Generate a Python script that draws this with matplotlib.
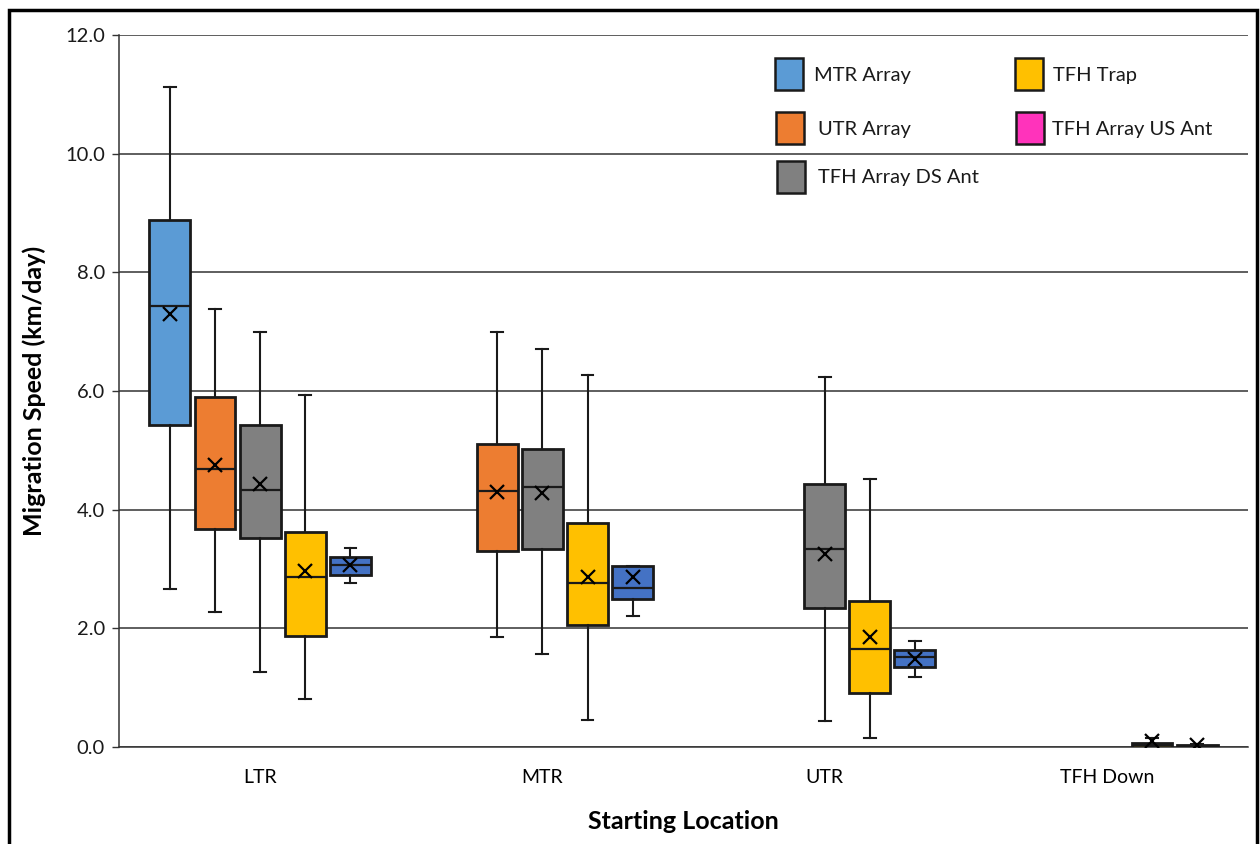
import matplotlib
matplotlib.use("Agg")
import matplotlib.pyplot as plt
from matplotlib.patches import Rectangle

plt.rcParams["font.family"] = ["Lato", "DejaVu Sans"]

categories = ["LTR", "MTR", "UTR", "TFH Down"]

# Summary per starting location: (whisker low, Q1, median, Q3, whisker high, mean)
mtr_array = [(2.67, 5.43, 7.44, 8.88, 11.13, 7.30), None, None, None]
utr_array = [(2.27, 3.67, 4.69, 5.90, 7.38, 4.75),
             (1.86, 3.30, 4.32, 5.10, 6.99, 4.29), None, None]
tfh_ds_ant = [(1.26, 3.53, 4.33, 5.42, 6.99, 4.44),
              (1.56, 3.33, 4.39, 5.03, 6.71, 4.28),
              (0.44, 2.34, 3.33, 4.44, 6.24, 3.26), None]
tfh_trap = [(0.81, 1.87, 2.86, 3.62, 5.93, 2.97),
            (0.46, 2.05, 2.77, 3.78, 6.27, 2.87),
            (0.16, 0.91, 1.65, 2.46, 4.51, 1.85),
            (0.00, 0.00, 0.03, 0.07, 0.16, 0.10)]
tfh_us_ant = [(2.76, 2.90, 3.06, 3.21, 3.35, 3.06),
              (2.21, 2.50, 2.68, 3.05, 3.05, 2.87),
              (1.18, 1.34, 1.52, 1.64, 1.78, 1.48),
              (0.00, 0.01, 0.02, 0.04, 0.05, 0.03)]

series = [mtr_array, utr_array, tfh_ds_ant, tfh_trap, tfh_us_ant]
box_colors = ["#5B9BD5", "#ED7D31", "#808080", "#FFC000", "#4472C4"]

legend_names = ["MTR Array", "TFH Trap", "UTR Array", "TFH Array US Ant",
                "TFH Array DS Ant"]
legend_colors = ["#5B9BD5", "#FFC000", "#ED7D31", "#FF33BB", "#808080"]

W, H = 1260, 844
fig = plt.figure(figsize=(W / 100, H / 100), dpi=100)
ax = fig.add_axes([119 / W, 1 - 747 / H, (1248 - 119) / W, (747 - 35) / H])

slot = 0.160
width = 0.145
for s_idx, (data, color) in enumerate(zip(series, box_colors)):
    stats, pos = [], []
    for c_idx, row in enumerate(data):
        if row is None:
            continue
        lo, q1, med, q3, hi, mean = row
        stats.append(dict(whislo=lo, q1=q1, med=med, q3=q3, whishi=hi,
                          mean=mean, fliers=[]))
        pos.append(c_idx + (s_idx - 2) * slot)
    ax.bxp(stats, positions=pos, widths=width, showmeans=True,
           patch_artist=True, showfliers=False,
           boxprops=dict(facecolor=color, edgecolor="#1a1a1a", linewidth=2.0),
           medianprops=dict(color="#1a1a1a", linewidth=1.6),
           whiskerprops=dict(color="#1a1a1a", linewidth=1.5),
           capprops=dict(color="#1a1a1a", linewidth=1.5),
           capwidths=0.042,
           meanprops=dict(marker="x", markeredgecolor="black",
                          markerfacecolor="black", markersize=10,
                          markeredgewidth=1.6),
           zorder=3)

ax.set_xlim(-0.5, 3.5)
ax.set_ylim(0, 12)
ax.set_yticks([0, 2, 4, 6, 8, 10, 12])
ax.set_yticklabels([f"{v:.1f}" for v in [0, 2, 4, 6, 8, 10, 12]], fontsize=14.5)
ax.set_xticks(range(len(categories)))
ax.set_xticklabels(categories, fontsize=14)
ax.tick_params(axis="x", length=0, pad=16)
ax.tick_params(axis="y", length=5, width=1, color="#333333", pad=5,
               labelcolor="#1a1a1a")

ax.grid(axis="y", color="#333333", linewidth=1.1, zorder=0)
ax.set_axisbelow(True)
for side in ["top", "right"]:
    ax.spines[side].set_visible(False)
ax.spines["left"].set_color("#333333")
ax.spines["bottom"].set_color("#333333")
ax.spines["left"].set_linewidth(1.1)
ax.spines["bottom"].set_linewidth(1.1)

ax.set_ylabel("Migration Speed (km/day)", fontsize=18, fontweight="bold",
              labelpad=14)
ax.set_xlabel("Starting Location", fontsize=18, fontweight="bold", labelpad=17)

# Legend drawn as swatches and labels in pixel-based figure coordinates
legend_items = [
    (775, 58, 814, 75),
    (1015, 58, 1053, 75),
    (776, 112, 818, 129),
    (1016, 112, 1052, 129),
    (777, 161, 818, 178),
]
for (sx, sy, tx, ty), name, color in zip(legend_items, legend_names,
                                         legend_colors):
    fig.patches.append(Rectangle((sx / W, 1 - (sy + 32) / H), 28 / W, 32 / H,
                                 transform=fig.transFigure, facecolor=color,
                                 edgecolor="#1a1a1a", linewidth=1.8,
                                 zorder=5))
    fig.text(tx / W, 1 - ty / H, name, fontsize=14.5, va="center", ha="left",
             color="#1a1a1a")

# Outer frame around the whole chart
fig.patches.append(Rectangle((9 / W, -0.05), (1257 - 9) / W, 1.05 - 10 / H,
                             transform=fig.transFigure, fill=False,
                             edgecolor="black", linewidth=2.5))

fig.savefig("out.png", dpi=100)
